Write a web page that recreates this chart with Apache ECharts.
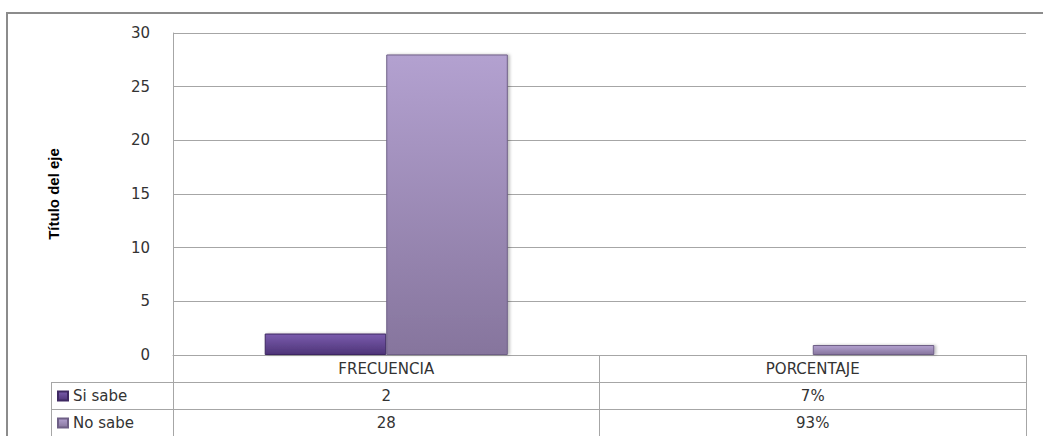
<!DOCTYPE html>
<html>
<head>
<meta charset="utf-8">
<script src="https://cdn.jsdelivr.net/npm/echarts@6/dist/echarts.min.js"></script>
<style>
html,body{margin:0;padding:0;background:#fff;}
#chart{width:1043px;height:436px;}
</style>
</head>
<body>
<div id="chart"></div>
<script>
var categories = ['FRECUENCIA', 'PORCENTAJE'];
var seriesNames = ['Si sabe', 'No sabe'];
var siSabe = [2, 0.07];
var noSabe = [28, 0.93];
var yTicks = { min: 0, max: 30, interval: 5 };
var yAxisTitle = 'Título del eje';

function fmt(v, i) {
  return i === 1 ? Math.round(v * 100) + '%' : String(v);
}

var chart = echarts.init(document.getElementById('chart'), null, { renderer: 'svg' });
var font = 'DejaVu Sans';
var gridColor = '#a6a6a6';

function grad(top, bottom) {
  return new echarts.graphic.LinearGradient(0, 0, 0, 1, [
    { offset: 0, color: top },
    { offset: 1, color: bottom }
  ]);
}

var valueAxisCommon = {
  type: 'category',
  position: 'bottom',
  axisLine: { show: false },
  axisTick: { show: false },
  axisLabel: { margin: 6, fontSize: 15, fontFamily: font, color: '#333' }
};

var option = {
  animation: false,
  backgroundColor: '#fff',
  grid: { left: 173, right: 17, top: 33, bottom: 81 },
  legend: {
    orient: 'vertical',
    left: 57,
    top: 388,
    padding: 0,
    itemWidth: 10,
    itemHeight: 9,
    itemGap: 11,
    icon: 'rect',
    data: seriesNames,
    textStyle: { fontSize: 15, fontFamily: font, color: '#333', lineHeight: 16 }
  },
  xAxis: [
    {
      type: 'category',
      data: categories,
      position: 'bottom',
      axisLine: { show: true, lineStyle: { color: gridColor, width: 1 } },
      axisTick: { show: true, length: 81, lineStyle: { color: gridColor, width: 1 } },
      axisLabel: { margin: 6, fontSize: 15, fontFamily: font, color: '#333' }
    },
    Object.assign({}, valueAxisCommon, { data: siSabe.map(fmt), offset: 27 }),
    Object.assign({}, valueAxisCommon, { data: noSabe.map(fmt), offset: 54 })
  ],
  yAxis: {
    type: 'value',
    min: yTicks.min,
    max: yTicks.max,
    interval: yTicks.interval,
    name: yAxisTitle,
    nameLocation: 'middle',
    nameRotate: 90,
    nameGap: 112,
    nameTextStyle: { fontSize: 15, fontWeight: 'bold', fontFamily: 'Liberation Sans Narrow, Liberation Sans', color: '#000' },
    axisLine: { show: true, lineStyle: { color: gridColor, width: 1 } },
    axisTick: { show: false },
    axisLabel: { margin: 23, fontSize: 15, fontFamily: font, color: '#333' },
    splitLine: { show: true, lineStyle: { color: gridColor, width: 1 } }
  },
  series: [
    {
      name: seriesNames[0],
      type: 'bar',
      data: siSabe,
      barGap: '0%',
      barCategoryGap: '43%',
      itemStyle: {
        color: grad('#7a5cad', '#4e3478'),
        borderColor: '#3e2862',
        borderWidth: 1,
        shadowColor: 'rgba(0,0,0,0.25)',
        shadowBlur: 3,
        shadowOffsetX: 2
      }
    },
    {
      name: seriesNames[1],
      type: 'bar',
      data: noSabe,
      itemStyle: {
        color: grad('#b3a1d0', '#86759d'),
        borderColor: '#6e5f86',
        borderWidth: 1,
        shadowColor: 'rgba(0,0,0,0.25)',
        shadowBlur: 3,
        shadowOffsetX: 2
      }
    }
  ],
  graphic: [
    { type: 'rect', shape: { x: 7, y: 13, width: 1100, height: 500 }, style: { fill: 'none', stroke: '#8c8c8c', lineWidth: 2 }, silent: true },
    { type: 'line', shape: { x1: 51, y1: 382.5, x2: 1026, y2: 382.5 }, style: { stroke: gridColor, lineWidth: 1 }, silent: true },
    { type: 'line', shape: { x1: 51, y1: 409.5, x2: 1026, y2: 409.5 }, style: { stroke: gridColor, lineWidth: 1 }, silent: true },
    { type: 'line', shape: { x1: 51.5, y1: 382, x2: 51.5, y2: 436 }, style: { stroke: gridColor, lineWidth: 1 }, silent: true }
  ]
};
chart.setOption(option);
</script>
</body>
</html>
